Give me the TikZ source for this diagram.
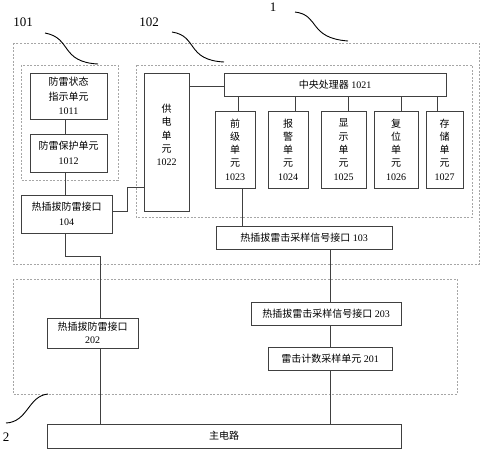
\documentclass[tikz,border=0pt]{standalone}
\usepackage{fontspec}
\setmainfont{Liberation Serif}
\newfontfamily\cjk{Noto Sans CJK SC}
\begin{document}
\begin{tikzpicture}[x=1pt,y=-1pt,
  box/.style={draw=black!75,line width=0.9pt,inner sep=0pt,align=center,font=\fontsize{10}{14.5}\selectfont},
  vbox/.style={box,font=\fontsize{10}{13.3}\selectfont},
  grp/.style={draw=black!35,dash pattern=on 2pt off 1.5pt,line width=0.7pt},
  wire/.style={draw=black!75,line width=0.9pt},
  squig/.style={draw=black,line width=0.9pt},
  lab/.style={font=\fontsize{13}{13}\selectfont,inner sep=0pt}]
\useasboundingbox (0,0) rectangle (481,450);
% groups
\draw[grp] (13,43) rectangle (479,264);
\draw[grp] (21,65) rectangle (118,180);
\draw[grp] (136,65) rectangle (472,217);
\draw[grp] (13,279) rectangle (457,394);
% labels
\node[lab] (l101) at (23,22) {101};
\node[lab] (l102) at (149,22) {102};
\node[lab] (l1) at (273,7) {1};
\node[lab] (l2) at (6,437) {2};
\draw[squig] (45,33) .. controls (72,38) and (60,62) .. (98,64);
\draw[squig] (172,32) .. controls (198,36) and (186,60) .. (224,62);
\draw[squig] (295,12) .. controls (320,15) and (308,38) .. (348,41);
\draw[squig] (48,394) .. controls (28,396) and (28,422) .. (6,423);
% boxes
\node[box,minimum width=77,minimum height=46] (c1011) at (68.5,96) {{\cjk 防雷状态}\\{\cjk 指示单元}\\1011};
\node[box,minimum width=77,minimum height=38] (c1012) at (68.5,153) {{\cjk 防雷保护单元}\\1012};
\node[box,minimum width=91,minimum height=38] (c104) at (66.5,214) {{\cjk 热插拔防雷接口}\\104};
\node[box,minimum width=45,minimum height=138] (c1022) at (166.5,142) {};
\node[vbox,draw=none] (t1022) at (166.5,135) {{\cjk 供}\\{\cjk 电}\\{\cjk 单}\\{\cjk 元}\\1022};
\node[box,minimum width=222,minimum height=23] (c1021) at (335,84.5) {{\cjk 中央处理器} 1021};
\node[vbox,minimum width=40,minimum height=77] (c1023) at (235,149.5) {{\cjk 前}\\{\cjk 级}\\{\cjk 单}\\{\cjk 元}\\1023};
\node[vbox,minimum width=40,minimum height=77] (c1024) at (288,149.5) {{\cjk 报}\\{\cjk 警}\\{\cjk 单}\\{\cjk 元}\\1024};
\node[vbox,minimum width=45,minimum height=77] (c1025) at (343.5,149.5) {{\cjk 显}\\{\cjk 示}\\{\cjk 单}\\{\cjk 元}\\1025};
\node[vbox,minimum width=44,minimum height=77] (c1026) at (396,149.5) {{\cjk 复}\\{\cjk 位}\\{\cjk 单}\\{\cjk 元}\\1026};
\node[vbox,minimum width=37,minimum height=77] (c1027) at (444.5,149.5) {{\cjk 存}\\{\cjk 储}\\{\cjk 单}\\{\cjk 元}\\1027};
\node[box,minimum width=176,minimum height=23] (c103) at (304,237.5) {{\cjk 热插拔雷击采样信号接口} 103};
\node[box,minimum width=150,minimum height=23] (c203) at (326,313.5) {{\cjk 热插拔雷击采样信号接口} 203};
\node[box,minimum width=124,minimum height=23] (c201) at (330,358.5) {{\cjk 雷击计数采样单元} 201};
\node[box,minimum width=91,minimum height=30,font=\fontsize{10}{12.5}\selectfont] (c202) at (92.5,333) {{\cjk 热插拔防雷接口}\\202};
\node[box,minimum width=354,minimum height=24] (cmain) at (224,436) {{\cjk 主电路}};
% wires
\coordinate (j0) at (65,0);
\draw[wire] (c1011.south -| j0) -- (c1012.north -| j0);
\draw[wire] (c1012.south -| j0) -- (c104.north -| j0);
\foreach \n/\s in {1023/3,1024/7,1025/4.5,1026/5,1027/-7.5}{
  \draw[wire] ([xshift=\s]c\n.north) -- ([xshift=\s]c\n.north |- c1021.south);
}
\draw[wire] ([xshift=7]c1023.south) -- ([xshift=7]c1023.south |- c103.north);
\coordinate (j4) at (200,86);
\draw[wire] (c1022.east |- j4) -- (c1021.west |- j4);
\coordinate (j2) at (127,211);
\coordinate (j3) at (127,187);
\draw[wire] (c104.east |- j2) -- (j2) -- (j3) -- (j3 -| c1022.west);
\coordinate (j1) at (100,256);
\draw[wire] (c104.south -| j0) |- (j1) -- (j1 |- c202.north);
\draw[wire] (c202.south -| j1) -- (j1 |- cmain.north);
\draw[wire] (c103.south -| c201.north) -- (c203.north -| c201.north);
\draw[wire] (c203.south -| c201.north) -- (c201.north);
\draw[wire] (c201.south) -- (c201.south |- cmain.north);
\end{tikzpicture}
\end{document}
